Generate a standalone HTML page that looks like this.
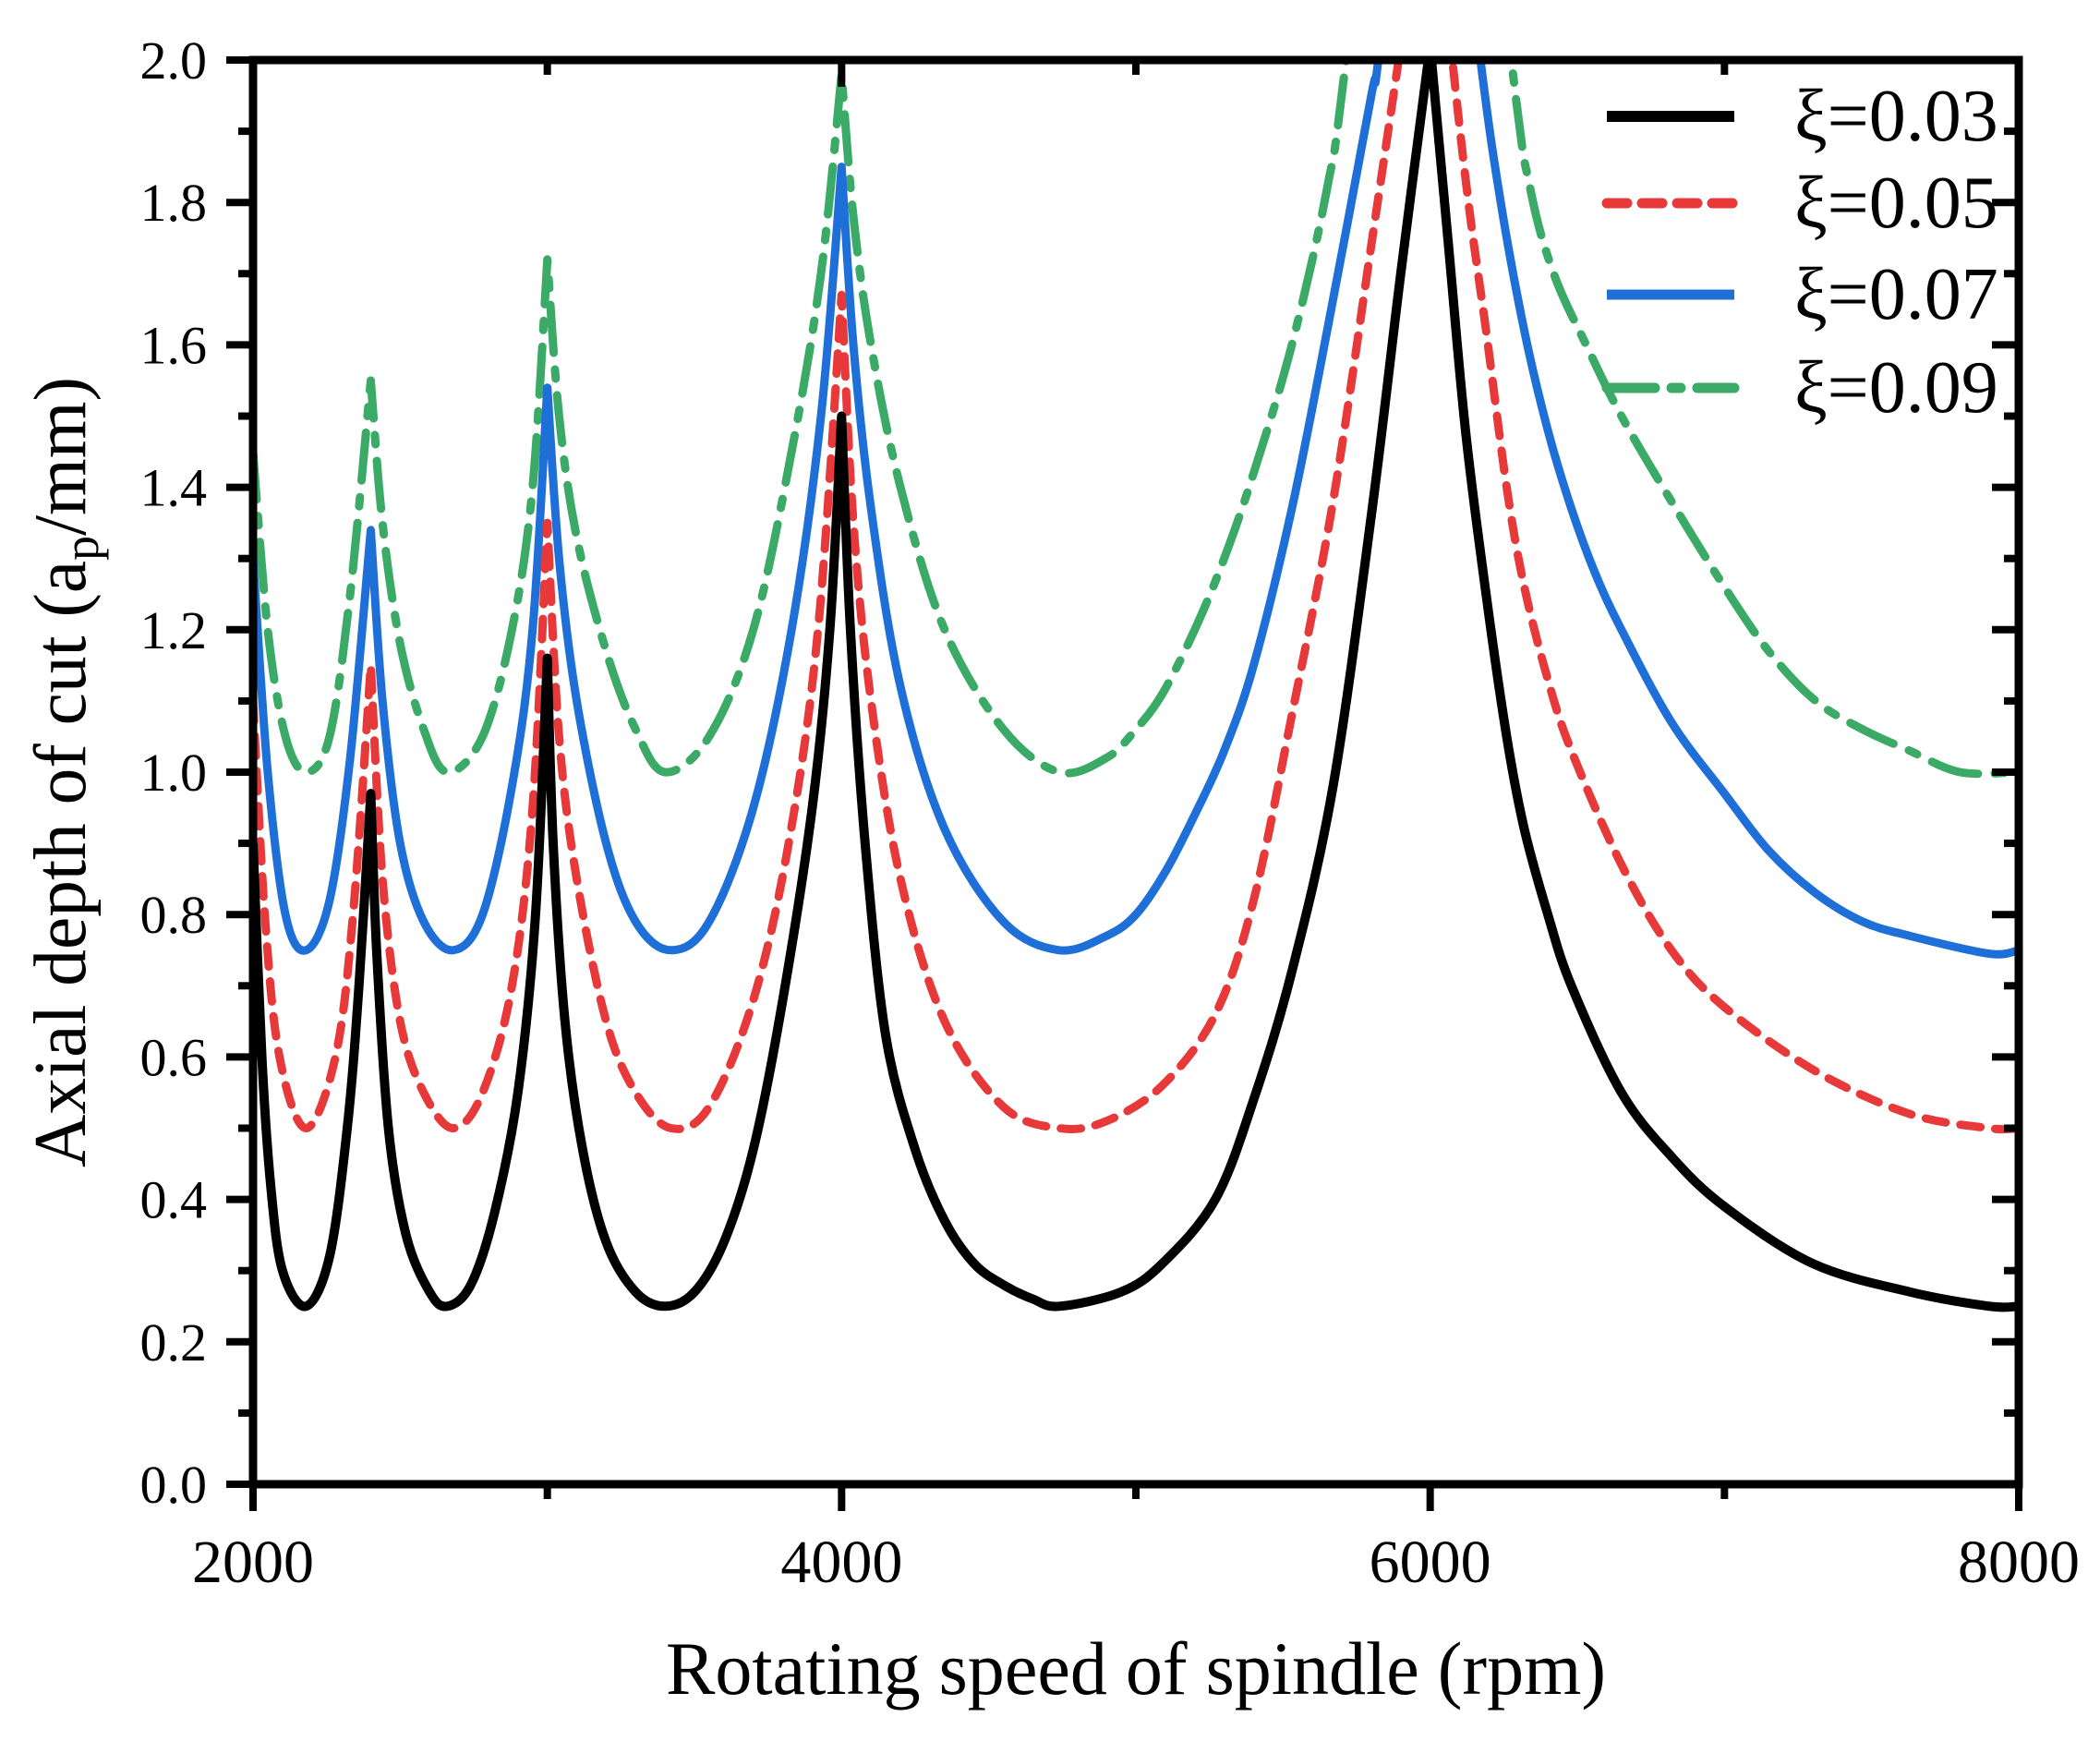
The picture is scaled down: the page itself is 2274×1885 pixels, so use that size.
<!DOCTYPE html>
<html><head><meta charset="utf-8">
<style>
html,body{margin:0;padding:0;background:#fff;}
svg{display:block;}
text{font-family:"Liberation Serif","DejaVu Serif",serif;fill:#000;}
</style></head>
<body>
<svg id="chart" width="2274" height="1885" viewBox="0 0 2274 1885" xmlns="http://www.w3.org/2000/svg">
<defs><clipPath id="plotClip"><rect x="274" y="65" width="1912" height="1542"/></clipPath></defs>
<g id="series" clip-path="url(#plotClip)"></g>
<g id="axes"></g>
<text x="1230" y="1834" font-size="82" text-anchor="middle" textLength="1018" lengthAdjust="spacingAndGlyphs">Rotating speed of spindle (rpm)</text>
<text transform="translate(92,836) rotate(-90)" font-size="80" text-anchor="middle" textLength="856" lengthAdjust="spacingAndGlyphs">Axial depth of cut (a<tspan font-size="54" dy="14">p</tspan><tspan dy="-14">/mm)</tspan></text>
<g id="legend"></g>
</svg>
<script>
// ---- data ----
const seriesNames = ["ξ=0.03","ξ=0.05","ξ=0.07","ξ=0.09"];
const rpm003 = [2000,2030,2060,2100,2180,2260,2320,2360,2400,2420,2460,2520,2600,2660,2740,2820,2900,2960,3000,3020,3060,3120,3200,3300,3400,3500,3600,3700,3800,3900,3960,4000,4030,4080,4150,4250,4350,4450,4550,4650,4740,4950,5090,5270,5400,5530,5670,5800,5900,6000,6060,6120,6190,6260,6320,6400,6480,6650,6820,7000,7300,7630,7900,8000];
const val003 = [0.9,0.6,0.42,0.3,0.25,0.32,0.5,0.7,0.97,0.75,0.5,0.35,0.27,0.25,0.28,0.38,0.55,0.8,1.16,0.9,0.65,0.47,0.34,0.27,0.25,0.27,0.34,0.47,0.68,0.95,1.2,1.5,1.2,0.9,0.63,0.47,0.37,0.31,0.28,0.26,0.25,0.27,0.31,0.4,0.54,0.72,0.98,1.36,1.7,2.02,1.75,1.48,1.25,1.05,0.92,0.8,0.7,0.55,0.46,0.39,0.31,0.27,0.25,0.25];
const rpm005 = [2000,2040,2090,2180,2280,2340,2400,2440,2500,2580,2680,2780,2880,2950,3000,3040,3100,3200,3300,3420,3550,3700,3820,3920,4000,4040,4100,4200,4350,4550,4740,4900,5090,5270,5400,5530,5670,5800,5900,6000,6070,6130,6190,6260,6320,6400,6480,6650,6820,7000,7310,7630,7900,8000];
const val005 = [1.1,0.8,0.6,0.5,0.6,0.8,1.15,0.85,0.65,0.55,0.5,0.55,0.7,0.95,1.35,1.05,0.85,0.65,0.55,0.5,0.53,0.68,0.9,1.2,1.67,1.35,1.1,0.85,0.65,0.53,0.5,0.51,0.56,0.66,0.82,1.08,1.38,1.74,2.02,2.3,2.02,1.8,1.62,1.4,1.26,1.13,1.03,0.87,0.75,0.67,0.58,0.52,0.5,0.5];
const rpm007 = [2000,2050,2110,2180,2260,2330,2400,2440,2500,2580,2680,2780,2880,2950,3000,3040,3100,3200,3300,3420,3550,3700,3830,3930,4000,4040,4100,4200,4350,4550,4740,4900,5000,5100,5200,5300,5400,5530,5650,5800,5830,6000,6165,6240,6320,6400,6480,6560,6650,6820,7000,7150,7310,7470,7630,7900,8000];
const val007 = [1.3,1.0,0.8,0.75,0.82,1.02,1.34,1.1,0.9,0.79,0.75,0.8,0.98,1.2,1.54,1.3,1.1,0.9,0.79,0.75,0.79,0.95,1.2,1.5,1.85,1.6,1.37,1.12,0.92,0.79,0.75,0.77,0.8,0.86,0.94,1.03,1.15,1.37,1.62,1.95,2.02,2.6,2.02,1.8,1.62,1.48,1.37,1.28,1.2,1.07,0.97,0.89,0.83,0.79,0.77,0.745,0.75];
const rpm009 = [2000,2050,2110,2180,2260,2330,2400,2440,2500,2580,2660,2780,2880,2950,3000,3040,3100,3200,3300,3400,3550,3700,3830,3930,4000,4040,4100,4200,4350,4550,4740,4900,5000,5090,5200,5300,5400,5530,5650,5720,6000,6270,6340,6420,6530,6650,6820,7000,7150,7310,7470,7630,7800,8000];
const val009 = [1.45,1.2,1.05,1.0,1.05,1.25,1.55,1.35,1.18,1.06,1.0,1.05,1.2,1.4,1.72,1.5,1.33,1.17,1.06,1.0,1.05,1.2,1.45,1.7,1.98,1.78,1.6,1.4,1.2,1.06,1.0,1.02,1.06,1.11,1.2,1.3,1.42,1.6,1.82,2.02,3.0,2.02,1.82,1.7,1.6,1.5,1.38,1.26,1.17,1.1,1.06,1.03,1.0,1.0];
const xTicks = [2000,4000,6000,8000];
const xTickLabels = ["2000","4000","6000","8000"];
const yTicks = [0,0.2,0.4,0.6,0.8,1.0,1.2,1.4,1.6,1.8,2.0];
const yTickLabels = ["0.0","0.2","0.4","0.6","0.8","1.0","1.2","1.4","1.6","1.8","2.0"];

// ---- axes functions ----
const X0=274,X1=2186,Y0=1607,Y1=65;
const xs = v => X0 + (v-2000)/6000*(X1-X0);
const ys = v => Y0 - v/2*(Y0-Y1);
const NS="http://www.w3.org/2000/svg";
function mk(tag, attrs, parent){const e=document.createElementNS(NS,tag);for(const k in attrs)e.setAttribute(k,attrs[k]);parent.appendChild(e);return e;}

function buildPath(rpm, val){
  const pts = rpm.map((r,i)=>[xs(r),ys(val[i])]);
  const cuts=[0];
  rpm.forEach((r,i)=>{ if(i>0&&i<rpm.length-1&&val[i]>val[i-1]&&val[i]>val[i+1]) cuts.push(i); });
  cuts.push(pts.length-1);
  let d="M"+pts[0][0].toFixed(1)+","+pts[0][1].toFixed(1);
  for(let c=0;c<cuts.length-1;c++){
    const a=cuts[c], b=cuts[c+1];
    for(let i=a;i<b;i++){
      const p0=pts[Math.max(i-1,a)],p1=pts[i],p2=pts[i+1],p3=pts[Math.min(i+2,b)];
      const c1=[p1[0]+(p2[0]-p0[0])/6,p1[1]+(p2[1]-p0[1])/6];
      const c2=[p2[0]-(p3[0]-p1[0])/6,p2[1]-(p3[1]-p1[1])/6];
      d+=" C"+c1[0].toFixed(1)+","+c1[1].toFixed(1)+" "+c2[0].toFixed(1)+","+c2[1].toFixed(1)+" "+p2[0].toFixed(1)+","+p2[1].toFixed(1);
    }
  }
  return d;
}

const sg=document.getElementById('series');
const styles=[
  {c:"#000000",w:10,dash:null},
  {c:"#e8393a",w:9,dash:"22 16"},
  {c:"#1f6fd8",w:9,dash:null},
  {c:"#3aaa66",w:9,dash:"52 18 10 18"}
];
const rpmArr=[rpm009,rpm007,rpm005,rpm003], valArr=[val009,val007,val005,val003];
const order=[3,2,1,0];
const seriesKeys=["series-xi-0-09","series-xi-0-07","series-xi-0-05","series-xi-0-03"];
order.forEach((si,k)=>{
  const p=mk('path',{d:buildPath(rpmArr[k],valArr[k]),fill:"none",stroke:styles[si].c,"stroke-width":styles[si].w,"stroke-linejoin":"round","stroke-linecap":styles[si].dash?"round":"butt"},sg);
  if(styles[si].dash)p.setAttribute('stroke-dasharray',styles[si].dash);
  
  
});

// ---- axes ----
const ag=document.getElementById('axes');
const frame=mk('rect',{x:X0,y:Y1,width:X1-X0,height:Y0-Y1,fill:"none",stroke:"#000","stroke-width":9},ag);


for(let v=2000; v<=8000; v+=1000){
  const major = v%2000===0, L = major?25:12, x=xs(v);
  const t1=mk('line',{x1:x,y1:Y0,x2:x,y2:Y0+L+4,stroke:"#000","stroke-width":8},ag);
  
  
  const t2=mk('line',{x1:x,y1:Y1,x2:x,y2:Y1+L+4,stroke:"#000","stroke-width":8},ag);
  
  
}
for(let i=0;i<=20;i++){
  const v=i*0.1, major=i%2===0, L=major?25:12, y=ys(v);
  const t1=mk('line',{x1:X0-L-4,y1:y,x2:X0,y2:y,stroke:"#000","stroke-width":8},ag);
  
  
  const t2=mk('line',{x1:X1-L-4,y1:y,x2:X1,y2:y,stroke:"#000","stroke-width":8},ag);
  
  
}
xTicks.forEach((v,i)=>{
  const t=mk('text',{x:xs(v),y:1713,"font-size":66,"text-anchor":"middle"},ag);
  t.textContent=xTickLabels[i];
  
  
});
yTicks.forEach((v,i)=>{
  const t=mk('text',{x:224,y:ys(v)+20,"font-size":58,"text-anchor":"end"},ag);
  t.textContent=yTickLabels[i];
  
  
});

// ---- legend ----
const lg=document.getElementById('legend');
const rowY=[126,220,319,420];
[0,1,2,3].forEach(si=>{
  const y=rowY[si];
  const l=mk('line',{x1:1740,y1:y,x2:1878,y2:y,stroke:styles[si].c,"stroke-width":styles[si].w+2,"stroke-linecap":styles[si].dash?"round":"butt"},lg);
  if(styles[si].dash)l.setAttribute('stroke-dasharray',styles[si].dash);
  
  
  const t=mk('text',{x:1943,y:y+26,"font-size":80},lg);
  t.textContent=seriesNames[si];
  
  
});
</script>
</body></html>
